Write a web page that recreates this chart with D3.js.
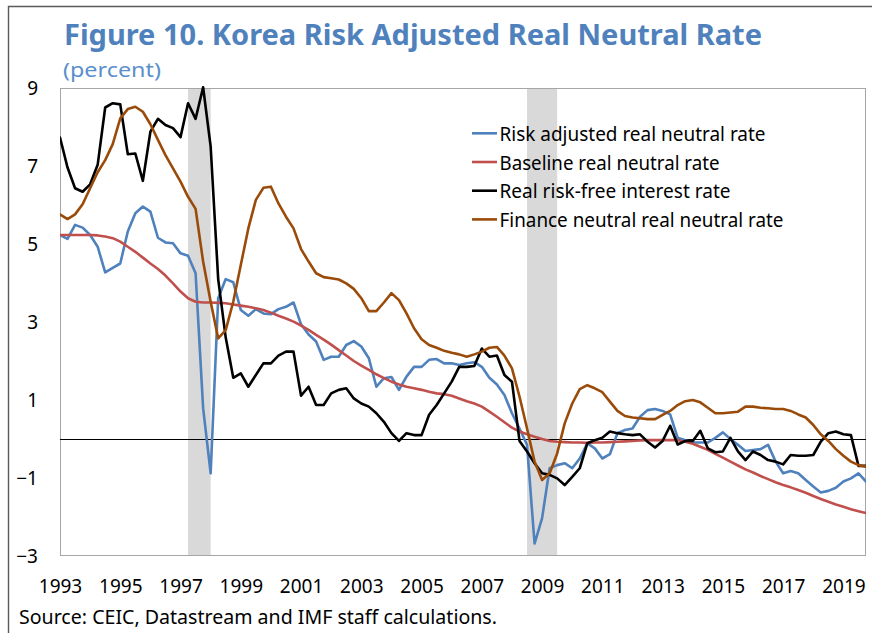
<!DOCTYPE html>
<html>
<head>
<meta charset="utf-8">
<script src="https://cdn.jsdelivr.net/npm/d3@7"></script>
<style>
  body { margin: 0; background: white; }
  svg { display: block; }
</style>
</head>
<body>
<script>
// quarterly data, 1993Q1 - 2019Q4
const startYear = 1993
const quarters = d3.range(108).map(i => startYear + i / 4)

const riskAdjusted = [
  5.23, 5.13, 5.49, 5.42, 5.23, 4.93, 4.27, 4.39, 4.50, 5.32, 5.79, 5.96,
  5.83, 5.16, 5.04, 5.02, 4.76, 4.70, 4.25, 0.79, -0.88, 3.61, 4.10, 4.02,
  3.31, 3.16, 3.33, 3.22, 3.20, 3.33, 3.39, 3.50, 2.94, 2.68, 2.50, 2.03,
  2.11, 2.11, 2.41, 2.51, 2.37, 2.07, 1.34, 1.56, 1.59, 1.26, 1.60, 1.85,
  1.85, 2.03, 2.05, 1.94, 1.94, 1.90, 1.94, 1.97, 1.85, 1.57, 1.40, 1.13,
  0.66, 0.27, -0.15, -2.68, -2.03, -0.75, -0.67, -0.62, -0.75, -0.50, -0.11, -0.24,
  -0.50, -0.39, 0.15, 0.23, 0.27, 0.57, 0.74, 0.77, 0.72, 0.63, 0.03, -0.03,
  -0.09, -0.09, -0.09, 0.03, 0.17, 0.00, -0.15, -0.31, -0.28, -0.26, -0.15, -0.58,
  -0.88, -0.82, -0.88, -1.05, -1.22, -1.37, -1.33, -1.25, -1.09, -1.01, -0.88, -1.09
]

const baseline = [
  5.23, 5.23, 5.23, 5.23, 5.23, 5.22, 5.19, 5.15, 5.06, 4.93, 4.80, 4.65,
  4.50, 4.36, 4.19, 3.99, 3.78, 3.61, 3.52, 3.50, 3.50, 3.49, 3.48, 3.45,
  3.42, 3.39, 3.35, 3.31, 3.24, 3.16, 3.09, 3.01, 2.91, 2.80, 2.67, 2.55,
  2.42, 2.28, 2.14, 2.00, 1.88, 1.77, 1.66, 1.56, 1.47, 1.40, 1.34, 1.30,
  1.26, 1.21, 1.17, 1.15, 1.11, 1.04, 0.97, 0.91, 0.83, 0.70, 0.57, 0.43,
  0.29, 0.19, 0.12, 0.06, 0.00, -0.05, -0.07, -0.08, -0.09, -0.09, -0.10, -0.09,
  -0.09, -0.08, -0.07, -0.06, -0.05, -0.04, -0.03, -0.03, -0.03, -0.03, -0.03, -0.07,
  -0.12, -0.20, -0.28, -0.38, -0.48, -0.58, -0.68, -0.78, -0.86, -0.95, -1.03, -1.11,
  -1.18, -1.24, -1.31, -1.38, -1.46, -1.54, -1.61, -1.68, -1.74, -1.80, -1.85, -1.90
]

const riskFree = [
  7.73, 6.96, 6.43, 6.34, 6.53, 7.03, 8.50, 8.61, 8.58, 7.30, 7.32, 6.62,
  7.88, 8.21, 8.05, 7.97, 7.74, 8.61, 8.21, 9.02, 7.50, 4.10, 2.60, 1.57,
  1.68, 1.34, 1.64, 1.94, 1.94, 2.14, 2.24, 2.24, 1.11, 1.34, 0.87, 0.87,
  1.17, 1.26, 1.30, 1.04, 0.91, 0.83, 0.66, 0.44, 0.15, -0.05, 0.15, 0.10,
  0.10, 0.62, 0.87, 1.17, 1.47, 1.85, 1.85, 1.87, 2.32, 2.11, 2.14, 1.64,
  1.47, -0.05, -0.32, -0.62, -0.88, -0.92, -1.01, -1.18, -0.97, -0.75, -0.11, -0.03,
  0.03, 0.19, 0.15, 0.12, 0.10, 0.12, -0.07, -0.22, -0.05, 0.34, -0.14, -0.05,
  -0.05, 0.21, -0.24, -0.34, -0.32, 0.03, -0.32, -0.54, -0.32, -0.41, -0.54, -0.58,
  -0.65, -0.41, -0.43, -0.43, -0.41, -0.07, 0.15, 0.19, 0.12, 0.10, -0.69, -0.69
]

const financeNeutral = [
  5.76, 5.64, 5.76, 6.02, 6.43, 6.84, 7.15, 7.56, 8.22, 8.46, 8.52, 8.39,
  8.07, 7.67, 7.28, 6.94, 6.60, 6.21, 5.90, 4.55, 3.52, 2.58, 2.79, 3.52,
  4.46, 5.40, 6.13, 6.44, 6.47, 6.04, 5.70, 5.40, 4.87, 4.55, 4.25, 4.15,
  4.12, 4.09, 3.99, 3.85, 3.61, 3.28, 3.28, 3.50, 3.74, 3.56, 3.22, 2.84,
  2.56, 2.41, 2.34, 2.26, 2.21, 2.17, 2.11, 2.17, 2.24, 2.34, 2.36, 2.14,
  1.81, 1.09, 0.27, -0.58, -1.05, -0.88, -0.37, 0.40, 0.91, 1.28, 1.38, 1.30,
  1.20, 0.96, 0.72, 0.59, 0.55, 0.53, 0.51, 0.51, 0.62, 0.72, 0.87, 0.97,
  1.00, 0.94, 0.80, 0.66, 0.66, 0.68, 0.70, 0.83, 0.83, 0.80, 0.79, 0.77,
  0.77, 0.72, 0.63, 0.55, 0.36, 0.12, -0.05, -0.26, -0.43, -0.58, -0.67, -0.71
]

const seriesNames = [
  "Risk adjusted real neutral rate",
  "Baseline real neutral rate",
  "Real risk-free interest rate",
  "Finance neutral real neutral rate"
]
const seriesColors = ["#4F81BD", "#C0504D", "#000000", "#9B4B09"]

// crisis periods (shaded)
const crisisStart = [1997.25, 2008.5]
const crisisEnd = [1998.0, 2009.5]

const xTicks = [1993, 1995, 1997, 1999, 2001, 2003, 2005, 2007, 2009, 2011, 2013, 2015, 2017, 2019]
const yTicks = [-3, -1, 1, 3, 5, 7, 9]

const w = 872
const h = 633
const plotLeft = 60, plotRight = 866, plotTop = 88, plotBottom = 556

const xScale = d3.scaleLinear()
                 .domain([startYear, 2019.75])
                 .range([plotLeft, plotRight])
const yScale = d3.scaleLinear()
                 .domain([-3, 9])
                 .range([plotBottom, plotTop])

const svg = d3.select("body")
              .append("svg")
              .attr("width", w)
              .attr("height", h)
              .style("font-family", "'Noto Sans', sans-serif")

// outer frame
svg.append("path")
   .attr("d", "M8.5," + h + " V6.5 H" + w)
   .attr("fill", "none")
   .attr("stroke", "#5a5a5a")
   .attr("stroke-width", 1.4)

// titles
svg.append("text")
   .attr("x", 64)
   .attr("y", 45)
   .attr("fill", "#4F81BD")
   .attr("font-weight", "bold")
   .attr("font-size", 28)
   .attr("textLength", 698)
   .attr("lengthAdjust", "spacingAndGlyphs")
   .text("Figure 10. Korea Risk Adjusted Real Neutral Rate")

svg.append("text")
   .attr("x", 63)
   .attr("y", 77)
   .attr("fill", "#5B8FCC")
   .attr("font-size", 20)
   .attr("textLength", 98)
   .attr("lengthAdjust", "spacingAndGlyphs")
   .text("(percent)")

// shaded crisis bands
svg.selectAll("rect.band")
   .data(crisisStart)
   .enter()
   .append("rect")
   .attr("class", "band")
   .attr("x", (d) => xScale(d))
   .attr("y", plotTop)
   .attr("width", (d, i) => xScale(crisisEnd[i]) - xScale(d))
   .attr("height", plotBottom - plotTop)
   .attr("fill", "#D9D9D9")

// plot area border
svg.append("rect")
   .attr("x", plotLeft + 0.5)
   .attr("y", plotTop + 0.5)
   .attr("width", plotRight - plotLeft - 1)
   .attr("height", plotBottom - plotTop - 1)
   .attr("fill", "none")
   .attr("stroke", "#A6A6A6")
   .attr("stroke-width", 1)

// zero line
svg.append("line")
   .attr("x1", plotLeft)
   .attr("x2", plotRight)
   .attr("y1", Math.round(yScale(0)) + 0.5)
   .attr("y2", Math.round(yScale(0)) + 0.5)
   .attr("stroke", "#000")
   .attr("stroke-width", 1)

svg.append("clipPath")
   .attr("id", "plot-clip")
   .append("rect")
   .attr("x", plotLeft)
   .attr("y", plotTop - 2)
   .attr("width", plotRight - plotLeft)
   .attr("height", plotBottom - plotTop + 2)

const line = d3.line()
               .x((d, i) => xScale(quarters[i]))
               .y((d) => yScale(d))

const allSeries = [riskAdjusted, baseline, riskFree, financeNeutral]

svg.append("g")
   .attr("clip-path", "url(#plot-clip)")
   .selectAll("path")
   .data(allSeries)
   .enter()
   .append("path")
   .attr("d", (d) => line(d))
   .attr("fill", "none")
   .attr("stroke", (d, i) => seriesColors[i])
   .attr("stroke-width", 2.6)
   .attr("stroke-linejoin", "round")
   .attr("stroke-linecap", "round")

// axes
const xAxis = d3.axisBottom(xScale)
                .tickValues(xTicks)
                .tickFormat(d3.format("d"))
                .tickSize(0)
                .tickPadding(23.5)
const yAxis = d3.axisLeft(yScale)
                .tickValues(yTicks)
                .tickFormat(d3.format("d"))
                .tickSize(0)
                .tickPadding(22)

const gx = svg.append("g")
              .attr("id", "x-axis")
              .attr("transform", "translate(0, " + plotBottom + ")")
              .call(xAxis)
const gy = svg.append("g")
              .attr("id", "y-axis")
              .attr("transform", "translate(" + plotLeft + ", 0)")
              .call(yAxis)

gx.select(".domain").remove()
gy.select(".domain").remove()
svg.selectAll("#x-axis text, #y-axis text")
   .attr("font-family", "'Noto Sans', sans-serif")
   .attr("font-size", 19)
   .attr("fill", "#000")

// legend
const legendWidths = [266, 220, 231, 284]
const legend = svg.selectAll("g.legend")
                  .data(seriesNames)
                  .enter()
                  .append("g")
                  .attr("class", "legend")
                  .attr("transform", (d, i) => "translate(472, " + (133.3 + i * 28.7) + ")")
legend.append("line")
      .attr("x1", 0)
      .attr("x2", 25)
      .attr("stroke", (d, i) => seriesColors[i])
      .attr("stroke-width", 2.6)
legend.append("text")
      .attr("x", 27.5)
      .attr("y", 7.5)
      .attr("font-size", 19)
      .attr("fill", "#000")
      .attr("textLength", (d, i) => legendWidths[i])
      .attr("lengthAdjust", "spacingAndGlyphs")
      .text((d) => d)

// source note
svg.append("text")
   .attr("x", 19)
   .attr("y", 624)
   .attr("font-size", 19)
   .attr("fill", "#000")
   .attr("textLength", 478)
   .attr("lengthAdjust", "spacingAndGlyphs")
   .text("Source: CEIC, Datastream and IMF staff calculations.")
</script>
</body>
</html>
